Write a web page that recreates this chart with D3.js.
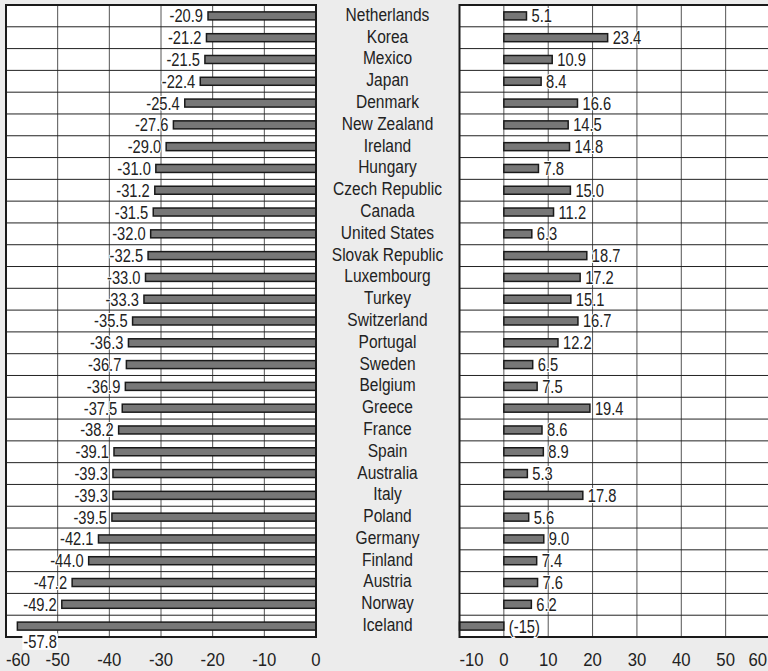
<!DOCTYPE html>
<html>
<head>
<meta charset="utf-8">
<script src="https://cdn.jsdelivr.net/npm/d3@7"></script>
<style>
  html, body { margin: 0; padding: 0; background: #ececec; }
  svg { display: block; }
  text { font-family: 'Liberation Sans', Arial, sans-serif; fill: #222; }
</style>
</head>
<body>
<svg id="chart" width="768" height="671"></svg>
<script>
const countries = ["Netherlands","Korea","Mexico","Japan","Denmark","New Zealand","Ireland","Hungary","Czech Republic","Canada","United States","Slovak Republic","Luxembourg","Turkey","Switzerland","Portugal","Sweden","Belgium","Greece","France","Spain","Australia","Italy","Poland","Germany","Finland","Austria","Norway","Iceland"];
const leftValues = [-20.9,-21.2,-21.5,-22.4,-25.4,-27.6,-29.0,-31.0,-31.2,-31.5,-32.0,-32.5,-33.0,-33.3,-35.5,-36.3,-36.7,-36.9,-37.5,-38.2,-39.1,-39.3,-39.3,-39.5,-42.1,-44.0,-47.2,-49.2,-57.8];
const rightValues = [5.1,23.4,10.9,8.4,16.6,14.5,14.8,7.8,15.0,11.2,6.3,18.7,17.2,15.1,16.7,12.2,6.5,7.5,19.4,8.6,8.9,5.3,17.8,5.6,9.0,7.4,7.6,6.2,-15];
const leftTicks = [-60,-50,-40,-30,-20,-10,0];
const rightTicks = [-10,0,10,20,30,40,50,60];

const svg = d3.select("#chart");
const plotTop = 5, plotBottom = 637;
const y = d3.scaleBand().domain(countries).range([plotTop, plotBottom]).padding(0);
const barH = 8;
const xL = d3.scaleLinear().domain([-60, 0]).range([6, 316]).clamp(true);
const xR = d3.scaleLinear().domain([-10, 60]).range([459.5, 770]).clamp(true);
const SX = 0.84;   // condensed look
const SXT = 0.88;

function place(sel, fx, fy, s) {
  sel.attr("transform", (d, i) => `translate(${fx(d, i)},${fy(d, i)}) scale(${s},1)`);
}

function panel(x, ticks, values, side) {
  const g = svg.append("g");
  const [x0, x1] = x.range();
  g.append("rect").attr("x", x0).attr("y", plotTop).attr("width", x1 - x0).attr("height", plotBottom - plotTop).attr("fill", "#fff");
  g.selectAll("line.v").data(ticks.filter(t => x(t) > x0 + 1 && x(t) < x1 - 1)).join("line")
    .attr("class", "v")
    .attr("x1", d => x(d)).attr("x2", d => x(d)).attr("y1", plotTop).attr("y2", plotBottom)
    .attr("stroke", "#555").attr("stroke-width", 1);
  g.selectAll("line.h").data(countries.slice(1)).join("line")
    .attr("class", "h")
    .attr("x1", x0).attr("x2", x1).attr("y1", d => y(d)).attr("y2", d => y(d))
    .attr("stroke", "#222").attr("stroke-width", 1);
  g.selectAll("rect.bar").data(values).join("rect")
    .attr("class", "bar")
    .attr("x", d => Math.min(x(d), x(0)))
    .attr("width", d => Math.abs(x(d) - x(0)))
    .attr("y", (d, i) => y(countries[i]) + y.bandwidth() / 2 - barH / 2)
    .attr("height", barH)
    .attr("fill", "#777").attr("stroke", "#1a1a1a").attr("stroke-width", 1.5);
  g.append("rect").attr("x", x0).attr("y", plotTop).attr("width", x1 - x0).attr("height", plotBottom - plotTop)
    .attr("fill", "none").attr("stroke", "#1a1a1a").attr("stroke-width", 2);
  const lab = g.selectAll("text.val").data(values).join("text")
    .attr("class", "val")
    .attr("font-size", 17.5)
    .attr("stroke", "#fff").attr("stroke-width", 2).attr("paint-order", "stroke")
    .attr("dominant-baseline", "central");
  const cy = i => y(countries[i]) + y.bandwidth() / 2;
  if (side === "left") {
    const low = d => x(d) < 40;
    lab.attr("text-anchor", d => low(d) ? "start" : "end").text(d => d.toFixed(1));
    place(lab, d => low(d) ? x(d) + 6 : x(d) - 5, (d, i) => low(d) ? cy(i) + 15 : cy(i), SX);
    lab.filter(low).each(function() {
      const bb = this.getBBox();
      const m = this.getCTM();
      g.insert("rect", () => this)
        .attr("x", m.e + bb.x * SX - 1).attr("y", m.f + bb.y + 2)
        .attr("width", bb.width * SX + 2).attr("height", bb.height - 3).attr("fill", "#fff");
    });
  } else {
    lab.attr("text-anchor", "start")
      .text(d => d < x.domain()[0] ? `(${d})` : d.toFixed(1));
    place(lab, d => (d < 0 ? x(0) : x(d)) + 5, (d, i) => cy(i), SX);
  }
  const tk = g.selectAll("text.tick").data(ticks).join("text")
    .attr("class", "tick")
    .attr("font-size", 19)
    .attr("text-anchor", (d, i) => i === 0 ? "start" : (i === ticks.length - 1 && side === "right" ? "end" : "middle"))
    .text(d => d);
  place(tk, (d, i) => (i === ticks.length - 1 && side === "right") ? 767 : x(d), () => 666, SXT);
}

panel(xL, leftTicks, leftValues, "left");
panel(xR, rightTicks, rightValues, "right");

const cl = svg.selectAll("text.country").data(countries).join("text")
  .attr("class", "country")
  .attr("text-anchor", "middle").attr("dominant-baseline", "central")
  .attr("font-size", 18.5)
  .text(d => d);
place(cl, () => 387.5, d => y(d) + y.bandwidth() / 2 - 1, SX);
</script>
</body>
</html>
